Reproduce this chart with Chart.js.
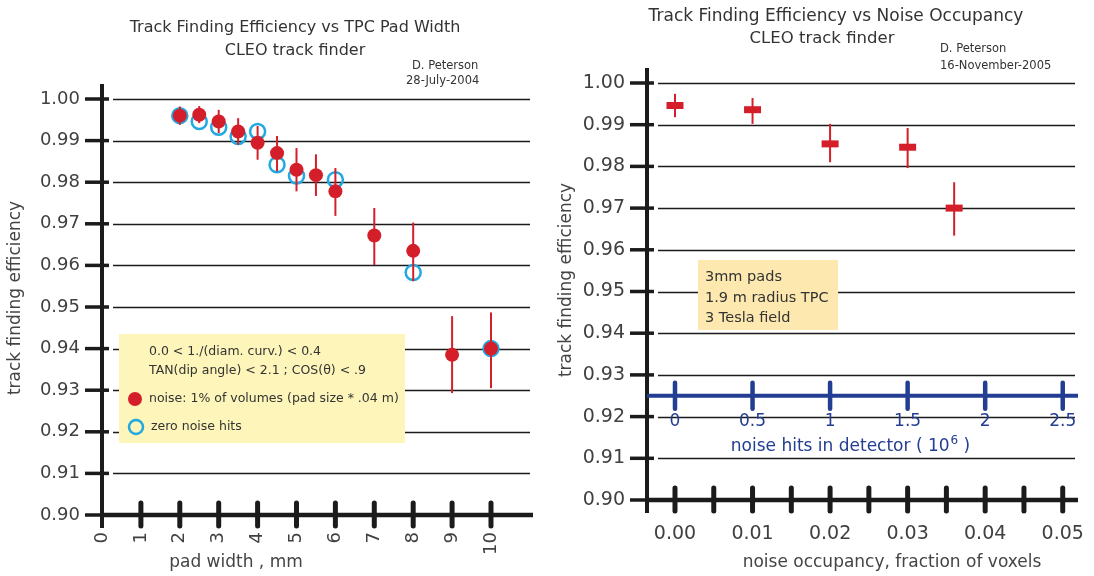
<!DOCTYPE html>
<html>
<head>
<meta charset="utf-8">
<title>Track Finding Efficiency - CLEO track finder</title>
<script src="https://cdn.jsdelivr.net/npm/chart.js@4.4.1/dist/chart.umd.min.js"></script>
<style>
    html, body { margin: 0; padding: 0; background: #ffffff; }
    #wrap { position: relative; width: 1094px; height: 576px; overflow: hidden; }
    canvas { position: absolute; top: 0; }
    #leftChart { left: 0; }
    #rightChart { left: 545px; }
</style>
</head>
<body>
<div id="wrap">
    <canvas id="leftChart" width="545" height="576"></canvas>
    <canvas id="rightChart" width="549" height="576"></canvas>
</div>
<script>
// Shared efficiency axis
const effTicks = [0.90, 0.91, 0.92, 0.93, 0.94, 0.95, 0.96, 0.97, 0.98, 0.99, 1.00];

// Left panel - efficiency vs pad width
const padWidthTicks = [0, 1, 2, 3, 4, 5, 6, 7, 8, 9, 10];
const padWidthNoise = [2, 2.5, 3, 3.5, 4, 4.5, 5, 5.5, 6, 7, 8, 9, 10];
const effNoise     = [0.9960, 0.9962, 0.9946, 0.9922, 0.9895, 0.9870, 0.9830, 0.9817, 0.9778, 0.9672, 0.9635, 0.9385, 0.9400];
const effNoiseHigh = [0.9982, 0.9983, 0.9974, 0.9954, 0.9935, 0.9911, 0.9882, 0.9867, 0.9834, 0.9738, 0.9703, 0.9478, 0.9487];
const effNoiseLow  = [0.9938, 0.9942, 0.9918, 0.9890, 0.9854, 0.9826, 0.9778, 0.9767, 0.9719, 0.9601, 0.9562, 0.9293, 0.9305];
const padWidthZero = [2, 2.5, 3, 3.5, 4, 4.5, 5, 6, 8, 10];
const effZero      = [0.9960, 0.9946, 0.9932, 0.9910, 0.9922, 0.9842, 0.9815, 0.9806, 0.9583, 0.9400];

// Right panel - efficiency vs noise occupancy
const occupancyTicks = [0, 0.01, 0.02, 0.03, 0.04, 0.05];
const occupancyMinorTicks = [0.005, 0.015, 0.025, 0.035, 0.045];
const noiseHitsTicks = [0, 0.5, 1, 1.5, 2, 2.5];
const occupancy   = [0.000, 0.010, 0.020, 0.030, 0.036];
const effOcc      = [0.9946, 0.9936, 0.9854, 0.9846, 0.9700];
const effOccHigh  = [0.9974, 0.9964, 0.9902, 0.9892, 0.9762];
const effOccLow   = [0.9918, 0.9902, 0.9810, 0.9796, 0.9634];

const FONT = '"DejaVu Sans", sans-serif';
const INK = '#1b1b1b';
const TEXT = '#333333';
const LABEL = '#404040';
const RED = '#d41f2a';
const CYAN = '#22a9e1';
const NAVY = '#223d91';

// Helper functions
function txt(ctx, s, x, y, size, color, align) {
    ctx.save();
    ctx.font = size + 'px ' + FONT;
    ctx.fillStyle = color;
    ctx.textAlign = align || 'center';
    ctx.textBaseline = 'middle';
    ctx.fillText(s, x, y);
    ctx.restore();
}

function seg(ctx, x1, y1, x2, y2, w, color, cap) {
    ctx.save();
    ctx.beginPath();
    ctx.moveTo(x1, y1);
    ctx.lineTo(x2, y2);
    ctx.lineWidth = w;
    ctx.strokeStyle = color;
    ctx.lineCap = cap || 'butt';
    ctx.stroke();
    ctx.restore();
}

function vtxt(ctx, s, x, y, size, color) {
    ctx.save();
    ctx.translate(x, y);
    ctx.rotate(-Math.PI / 2);
    txt(ctx, s, 0, 0, size, color, 'center');
    ctx.restore();
}

function drawGrid(chart, values, insetLeft, insetRight) {
    const ctx = chart.ctx, a = chart.chartArea, sy = chart.scales.y;
    values.forEach(v => {
        if (v === sy.min) return;
        const py = Math.round(sy.getPixelForValue(v)) + 0.5;
        seg(ctx, a.left + insetLeft, py, a.right - insetRight, py, 1.4, INK);
    });
}

function drawFrame(chart, yValues, xValues) {
    const ctx = chart.ctx, a = chart.chartArea, sx = chart.scales.x, sy = chart.scales.y;
    seg(ctx, a.left, a.top - 15, a.left, a.bottom + 13, 4, INK);
    yValues.forEach(v => {
        const py = sy.getPixelForValue(v);
        seg(ctx, a.left - 17, py, a.left + 7, py, 3.5, INK);
    });
    seg(ctx, a.left - 2, a.bottom, a.right, a.bottom, 4.5, INK);
    xValues.forEach(v => {
        const px = sx.getPixelForValue(v);
        if (Math.abs(px - a.left) < 2) return;
        seg(ctx, px, a.bottom - 12, px, a.bottom + 11, 5, INK, 'round');
    });
}

function drawErrorBars(chart, index, lows, highs, color, width) {
    const ctx = chart.ctx, sx = chart.scales.x, sy = chart.scales.y;
    chart.data.datasets[index].data.forEach((p, i) => {
        const px = sx.getPixelForValue(p.x);
        seg(ctx, px, sy.getPixelForValue(highs[i]), px, sy.getPixelForValue(lows[i]), width, color);
    });
}

function setTicks(values) {
    return function(scale) {
        scale.ticks = values.map(v => ({ value: v }));
    };
}

// pin a scale's thickness and stop its labels from pushing the plot area in
function fixSize(size) {
    return function(scale) {
        if (scale.isHorizontal()) scale.height = size;
        else scale.width = size;
        scale.paddingLeft = 0;
        scale.paddingRight = 0;
        scale.paddingTop = 0;
        scale.paddingBottom = 0;
    };
}

function points(xs, ys) {
    return xs.map((x, i) => ({ x: x, y: ys[i] }));
}

const leftDecor = {
    id: 'leftDecor',
    beforeDatasetsDraw(chart) {
        const ctx = chart.ctx;
        drawGrid(chart, effTicks, 11, 3);

        // info / legend box
        ctx.fillStyle = '#fdf5b9';
        ctx.fillRect(119, 334, 286, 109);
        txt(ctx, '0.0 < 1./(diam. curv.) < 0.4', 149, 352, 12.5, TEXT, 'left');
        txt(ctx, 'TAN(dip angle) < 2.1 ; COS(\u03B8) < .9', 149, 371, 12.5, TEXT, 'left');
        ctx.beginPath();
        ctx.arc(135, 399, 7, 0, Math.PI * 2);
        ctx.fillStyle = RED;
        ctx.fill();
        txt(ctx, 'noise: 1% of volumes (pad size * .04 m)', 149, 399, 12.5, TEXT, 'left');
        ctx.beginPath();
        ctx.arc(136, 427, 7, 0, Math.PI * 2);
        ctx.lineWidth = 2.5;
        ctx.strokeStyle = CYAN;
        ctx.stroke();
        txt(ctx, 'zero noise hits', 151, 427, 12.5, TEXT, 'left');

        drawFrame(chart, effTicks, padWidthTicks);
    },
    afterDatasetsDraw(chart) {
        drawErrorBars(chart, 0, effNoiseLow, effNoiseHigh, RED, 2);
    },
    afterDraw(chart) {
        const ctx = chart.ctx;
        txt(ctx, 'Track Finding Efficiency vs TPC Pad Width', 295, 28, 16, TEXT);
        txt(ctx, 'CLEO track finder', 295, 51, 16, TEXT);
        txt(ctx, 'D. Peterson', 412, 66, 11.5, TEXT, 'left');
        txt(ctx, '28-July-2004', 406, 81, 11.5, TEXT, 'left');
        vtxt(ctx, 'track finding efficiency', 16, 298, 17, '#444444');
        txt(ctx, 'pad width , mm', 236, 563, 17, '#444444');
    }
};

const rightDecor = {
    id: 'rightDecor',
    beforeDatasetsDraw(chart) {
        const ctx = chart.ctx, a = chart.chartArea, sy = chart.scales.y, sh = chart.scales.x2;
        drawGrid(chart, effTicks, 11, 3);

        ctx.fillStyle = '#fde8b0';
        ctx.fillRect(153, 260, 140, 70);
        txt(ctx, '3mm pads', 160, 277, 14.5, TEXT, 'left');
        txt(ctx, '1.9 m radius TPC', 160, 298, 14.5, TEXT, 'left');
        txt(ctx, '3 Tesla field', 160, 318, 14.5, TEXT, 'left');

        drawFrame(chart, effTicks, occupancyTicks.concat(occupancyMinorTicks));

        // secondary axis: noise hits in detector
        const by = sy.getPixelForValue(0.925);
        seg(ctx, a.left, by, a.right, by, 4, NAVY);
        noiseHitsTicks.forEach(v => {
            const px = sh.getPixelForValue(v);
            seg(ctx, px, by - 13, px, by + 13, 4.5, NAVY, 'round');
            txt(ctx, String(v), px, by + 26, 17, NAVY);
        });
        const base = 'noise hits in detector ( 10';
        ctx.save();
        ctx.font = '17px ' + FONT;
        const w1 = ctx.measureText(base).width;
        ctx.font = '12px ' + FONT;
        const w2 = ctx.measureText('6').width;
        ctx.font = '17px ' + FONT;
        const w3 = ctx.measureText(' )').width;
        ctx.restore();
        const x0 = 305 - (w1 + w2 + w3) / 2;
        txt(ctx, base, x0, by + 51, 17, NAVY, 'left');
        txt(ctx, '6', x0 + w1 + 1, by + 45, 12, NAVY, 'left');
        txt(ctx, ' )', x0 + w1 + w2 + 1, by + 51, 17, NAVY, 'left');
    },
    afterDatasetsDraw(chart) {
        drawErrorBars(chart, 0, effOccLow, effOccHigh, RED, 2);
    },
    afterDraw(chart) {
        const ctx = chart.ctx;
        txt(ctx, 'Track Finding Efficiency vs Noise Occupancy', 291, 17, 17, TEXT);
        txt(ctx, 'CLEO track finder', 277, 39, 16.5, TEXT);
        txt(ctx, 'D. Peterson', 395, 49, 11.5, TEXT, 'left');
        txt(ctx, '16-November-2005', 395, 66, 11.5, TEXT, 'left');
        vtxt(ctx, 'track finding efficiency', 22, 280, 17, '#444444');
        txt(ctx, 'noise occupancy, fraction of voxels', 347, 563, 17, '#444444');
    }
};

const tickFont = (size) => ({ family: FONT, size: size });

new Chart(document.getElementById('leftChart'), {
    type: 'scatter',
    data: {
        datasets: [{
            label: 'noise: 1% of volumes (pad size * .04 m)',
            data: points(padWidthNoise, effNoise),
            pointRadius: 7,
            pointBackgroundColor: RED,
            pointBorderWidth: 0,
            order: 1
        }, {
            label: 'zero noise hits',
            data: points(padWidthZero, effZero),
            pointRadius: 7.5,
            pointBackgroundColor: 'rgba(0,0,0,0)',
            pointBorderColor: CYAN,
            pointBorderWidth: 2.5,
            order: 2
        }]
    },
    options: {
        responsive: false,
        animation: false,
        layout: { padding: { top: 99, right: 12, left: 0, bottom: 0 } },
        plugins: { legend: { display: false }, tooltip: { enabled: false } },
        scales: {
            x: {
                type: 'linear',
                min: 0,
                max: 11.08,
                grid: { display: false, drawTicks: false },
                border: { display: false },
                afterBuildTicks: setTicks(padWidthTicks),
                afterFit: fixSize(61),
                ticks: {
                    autoSkip: false,
                    minRotation: 90,
                    maxRotation: 90,
                    padding: 17,
                    font: tickFont(18),
                    color: LABEL,
                    callback: v => String(v)
                }
            },
            y: {
                min: 0.90,
                max: 1.00,
                grid: { display: false, drawTicks: false },
                border: { display: false },
                afterBuildTicks: setTicks(effTicks),
                afterFit: fixSize(102),
                ticks: {
                    padding: 22,
                    font: tickFont(18),
                    color: LABEL,
                    callback: v => v.toFixed(2)
                }
            }
        }
    },
    plugins: [leftDecor]
});

const occMin = -0.00361;
const occMax = 0.05197;
const hitsPerOcc = noiseHitsTicks[noiseHitsTicks.length - 1] / occupancyTicks[occupancyTicks.length - 1];

new Chart(document.getElementById('rightChart'), {
    type: 'scatter',
    data: {
        datasets: [{
            label: 'efficiency',
            data: points(occupancy, effOcc),
            pointStyle: 'line',
            pointRadius: 8.5,
            pointBorderWidth: 7,
            pointBorderColor: RED,
            pointBackgroundColor: RED
        }]
    },
    options: {
        responsive: false,
        animation: false,
        layout: { padding: { top: 83, right: 16, left: 0, bottom: 0 } },
        plugins: { legend: { display: false }, tooltip: { enabled: false } },
        scales: {
            x: {
                type: 'linear',
                min: occMin,
                max: occMax,
                grid: { display: false, drawTicks: false },
                border: { display: false },
                afterBuildTicks: setTicks(occupancyTicks),
                afterFit: fixSize(76),
                ticks: {
                    autoSkip: false,
                    maxRotation: 0,
                    padding: 23,
                    font: tickFont(19),
                    color: LABEL,
                    callback: v => v.toFixed(2)
                }
            },
            x2: {
                type: 'linear',
                display: false,
                position: 'bottom',
                min: occMin * hitsPerOcc,
                max: occMax * hitsPerOcc
            },
            y: {
                min: 0.90,
                max: 1.00,
                grid: { display: false, drawTicks: false },
                border: { display: false },
                afterBuildTicks: setTicks(effTicks),
                afterFit: fixSize(102),
                ticks: {
                    padding: 22,
                    font: tickFont(19),
                    color: LABEL,
                    callback: v => v.toFixed(2)
                }
            }
        }
    },
    plugins: [rightDecor]
});
</script>
</body>
</html>
